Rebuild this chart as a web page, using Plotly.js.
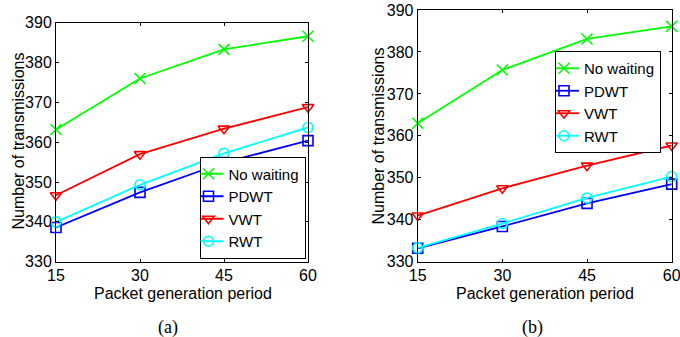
<!DOCTYPE html>
<html>
<head>
<meta charset="utf-8">
<script src="https://cdn.plot.ly/plotly-3.0.1.min.js"></script>
<style>html,body{margin:0;padding:0;background:#fff}#chart{width:680px;height:337px}</style>
</head>
<body>
<div id="chart"></div>
<script>
// Data
const periods = [15, 30, 45, 60];
const seriesNames = ["No waiting", "PDWT", "VWT", "RWT"];
const colors = ["#00ff00", "#0000ff", "#ff0000", "#00ffff"];
const symbols = ["x-thin-open", "square-open", "triangle-down-open", "circle-open"];
// Panel (a)
const aNoWaiting = [363.2, 376.0, 383.3, 386.6];
const aPDWT = [338.6, 347.4, 354.9, 360.4];
const aVWT = [346.7, 357.0, 363.4, 368.8];
const aRWT = [340.0, 349.3, 357.2, 363.7];
// Panel (b)
const bNoWaiting = [363.0, 375.7, 383.1, 386.1];
const bPDWT = [333.2, 338.4, 343.9, 348.5];
const bVWT = [341.0, 347.5, 352.9, 357.7];
const bRWT = [333.3, 339.1, 345.2, 350.3];
const yTicks = [330, 340, 350, 360, 370, 380, 390];
const captions = ["(a)", "(b)"];
const xTitle = "Packet generation period";
const yTitle = "Number of transmissions";

const W = 680, H = 337;
const panelA = [aNoWaiting, aPDWT, aVWT, aRWT];
const panelB = [bNoWaiting, bPDWT, bVWT, bRWT];

const traces = [];
function addPanel(data, xa, ya, leg) {
  data.forEach((vals, i) => {
    traces.push({
      x: periods, y: vals, type: "scatter", mode: "lines+markers",
      name: seriesNames[i], xaxis: xa, yaxis: ya, legend: leg,
      line: {color: colors[i], width: 1.8},
      marker: {symbol: symbols[i], size: i === 0 ? 11 : 10, color: colors[i],
               line: {color: colors[i], width: 1.6}},
      cliponaxis: false
    });
  });
}
addPanel(panelA, "x", "y", "legend");
addPanel(panelB, "x2", "y2", "legend2");

const fontFam = "Liberation Sans, Arial, sans-serif";
const serifFam = "Liberation Serif, Times New Roman, serif";
function xAx(dom) {
  return {
    domain: dom, range: [15, 60], tickvals: periods, ticks: "inside", ticklen: 3,
    tickcolor: "#000", showline: true, linecolor: "#000", linewidth: 1, mirror: "ticks",
    showgrid: false, zeroline: false, tickfont: {family: fontFam, size: 16, color: "#000"},
    ticklabeloverflow: "allow", ticklabelstandoff: -1, fixedrange: true
  };
}
function yAx(dom) {
  return {
    domain: dom, range: [330, 390], tickvals: yTicks, ticks: "inside", ticklen: 3,
    tickcolor: "#000", showline: true, linecolor: "#000", linewidth: 1, mirror: "ticks",
    showgrid: false, zeroline: false, tickfont: {family: fontFam, size: 16, color: "#000"},
    ticklabeloverflow: "allow", fixedrange: true
  };
}
function legendBox(x, y, xa, ya) {
  return {
    x: x / W, y: 1 - y / H, xanchor: xa, yanchor: ya,
    bgcolor: "#fff", bordercolor: "#000", borderwidth: 1,
    font: {family: fontFam, size: 15, color: "#000"},
    tracegroupgap: 0, itemwidth: 30, indentation: -12
  };
}
function ann(text, px, py, font, angle) {
  return {text: text, x: px / W, y: 1 - py / H, xref: "paper", yref: "paper", showarrow: false,
          xanchor: "center", yanchor: "middle", textangle: angle || 0, font: font};
}
const titleFont = {family: fontFam, size: 16, color: "#000"};
const capFont = {family: serifFam, size: 18, color: "#000"};

const layout = {
  width: W, height: H, margin: {l: 0, r: 0, t: 0, b: 0},
  paper_bgcolor: "#fff", plot_bgcolor: "#fff", showlegend: true,
  xaxis: Object.assign(xAx([56 / W, 308 / W]), {anchor: "y"}),
  yaxis: Object.assign(yAx([75.3 / H, 314.3 / H]), {anchor: "x"}),
  xaxis2: Object.assign(xAx([417.7 / W, 671.7 / W]), {anchor: "y2"}),
  yaxis2: Object.assign(yAx([75.3 / H, 327 / H]), {anchor: "x2"}),
  legend: legendBox(305.5, 258.5, "right", "bottom"),
  legend2: legendBox(661, 51, "right", "top"),
  annotations: [
    ann(xTitle, 182.5, 293.5, titleFont),
    ann(xTitle, 545, 293.5, titleFont),
    ann(yTitle, 17.5, 141, titleFont, -90),
    ann(yTitle, 378.5, 136, titleFont, -90),
    ann(captions[0], 167.5, 327.5, capFont),
    ann(captions[1], 532.5, 327.5, capFont)
  ]
};

Plotly.newPlot("chart", traces, layout, {staticPlot: true, displayModeBar: false});
</script>
</body>
</html>
